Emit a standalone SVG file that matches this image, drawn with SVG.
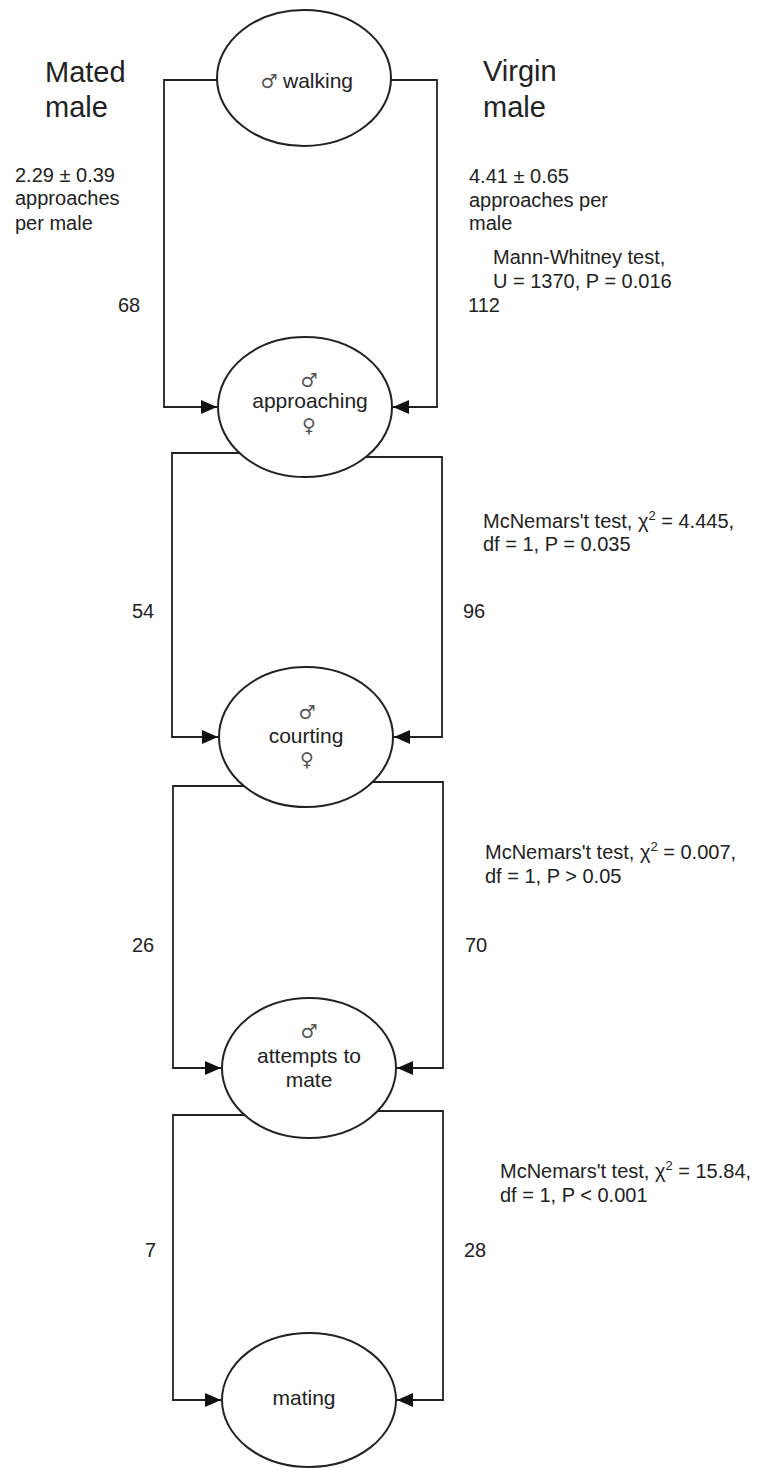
<svg xmlns="http://www.w3.org/2000/svg" width="775" height="1468" viewBox="0 0 775 1468">
<style>
text{font-family:"Liberation Sans",Arial,sans-serif;fill:#222}
.h{font-size:29px}
.t{font-size:20px}
.n{font-size:21px}
.sym{font-family:"DejaVu Sans",sans-serif;font-size:19px;fill:#555}
ellipse{fill:#fff;stroke:#222;stroke-width:2}
.c{fill:none;stroke:#222;stroke-width:1.8}
</style>
<defs>
<marker id="ah" markerUnits="userSpaceOnUse" markerWidth="18" markerHeight="16" refX="16" refY="8" orient="auto">
<path d="M0,1 L16,8 L0,15 Z" fill="#111"/>
</marker>
</defs>
<rect width="775" height="1468" fill="#fff"/>
<g id="connectors">
<path class="c" d="M217,80 H164 V407 H217" marker-end="url(#ah)"/>
<path class="c" d="M391,80 H437 V407 H393" marker-end="url(#ah)"/>
<path class="c" d="M243,453 H172 V737 H218" marker-end="url(#ah)"/>
<path class="c" d="M366,457 H442 V737 H394" marker-end="url(#ah)"/>
<path class="c" d="M244,786 H173 V1068 H221" marker-end="url(#ah)"/>
<path class="c" d="M370,782 H443 V1068 H397" marker-end="url(#ah)"/>
<path class="c" d="M247,1115 H173 V1400 H221" marker-end="url(#ah)"/>
<path class="c" d="M372,1111 H443 V1400 H397" marker-end="url(#ah)"/>
</g>
<g id="walking">
<ellipse cx="304" cy="78" rx="87" ry="68"/>
<text class="sym" x="269" y="88" text-anchor="middle">♂</text>
<text class="n" x="283" y="88">walking</text>
</g>
<g id="approaching">
<ellipse cx="305" cy="407" rx="87" ry="70"/>
<text class="sym" x="309" y="387" text-anchor="middle">♂</text>
<text class="n" x="310" y="408" text-anchor="middle">approaching</text>
<text class="sym" x="309" y="432" text-anchor="middle">♀</text>
</g>
<g id="courting">
<ellipse cx="306" cy="737" rx="87" ry="70"/>
<text class="sym" x="307" y="719" text-anchor="middle">♂</text>
<text class="n" x="306" y="743" text-anchor="middle">courting</text>
<text class="sym" x="307" y="766" text-anchor="middle">♀</text>
</g>
<g id="attempts">
<ellipse cx="309" cy="1068" rx="87" ry="70"/>
<text class="sym" x="309" y="1038" text-anchor="middle">♂</text>
<text class="n" x="309" y="1063" text-anchor="middle">attempts to</text>
<text class="n" x="309" y="1087" text-anchor="middle">mate</text>
</g>
<g id="mating">
<ellipse cx="309" cy="1400" rx="87" ry="67"/>
<text class="n" x="304" y="1405" text-anchor="middle">mating</text>
</g>
<g id="labels">
<text class="h" x="45" y="82">Mated</text>
<text class="h" x="45" y="117">male</text>
<text class="h" x="483" y="81">Virgin</text>
<text class="h" x="483" y="117">male</text>
<text class="t" x="15" y="182">2.29 ± 0.39</text>
<text class="t" x="15" y="205">approaches</text>
<text class="t" x="15" y="230">per male</text>
<text class="t" x="469" y="183">4.41 ± 0.65</text>
<text class="t" x="469" y="207">approaches per</text>
<text class="t" x="469" y="230">male</text>
<text class="t" x="493" y="264">Mann-Whitney test,</text>
<text class="t" x="493" y="288">U = 1370, P = 0.016</text>
<text class="t" x="118" y="312">68</text>
<text class="t" x="468" y="312">112</text>
<text class="t" x="483" y="528">McNemars't test, χ<tspan font-size="13" dy="-8">2</tspan><tspan dy="8"> = 4.445,</tspan></text>
<text class="t" x="483" y="551">df = 1, P = 0.035</text>
<text class="t" x="132" y="618">54</text>
<text class="t" x="463" y="618">96</text>
<text class="t" x="485" y="859">McNemars't test, χ<tspan font-size="13" dy="-8">2</tspan><tspan dy="8"> = 0.007,</tspan></text>
<text class="t" x="485" y="883">df = 1, P &gt; 0.05</text>
<text class="t" x="132" y="952">26</text>
<text class="t" x="465" y="952">70</text>
<text class="t" x="500" y="1178">McNemars't test, χ<tspan font-size="13" dy="-8">2</tspan><tspan dy="8"> = 15.84,</tspan></text>
<text class="t" x="500" y="1202">df = 1, P &lt; 0.001</text>
<text class="t" x="145" y="1257">7</text>
<text class="t" x="464" y="1257">28</text>
</g>
</svg>
